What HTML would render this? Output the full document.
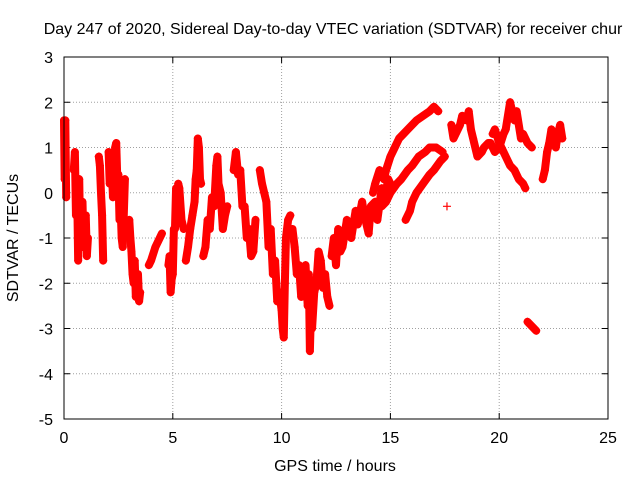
<!DOCTYPE html>
<html><head><meta charset="utf-8"><style>
body{margin:0;background:#fff}
svg text{font-family:"Liberation Sans",sans-serif;font-size:16px;fill:#000}
</style></head><body>
<svg id="c" width="640" height="480" xmlns="http://www.w3.org/2000/svg">
<rect width="640" height="480" fill="#fff"/>
<text x="333" y="34" text-anchor="middle">Day 247 of 2020, Sidereal Day-to-day VTEC variation (SDTVAR) for receiver chur</text>
<text transform="translate(18,238) rotate(-90)" text-anchor="middle">SDTVAR / TECUs</text>
<text x="335" y="471" text-anchor="middle">GPS time / hours</text>
<g id="grid"></g><g id="marks"></g>
<rect x="64" y="57" width="544" height="362" fill="none" stroke="#000"/>
</svg>
<script>
const xTicks=[0,5,10,15,20,25];
const yTicks=[3,2,1,0,-1,-2,-3,-4,-5];
const trackTimes=[
[0,0.03,0.06,0.1],
[0.45,0.5,0.55,0.6,0.65,0.7,0.75,0.8,0.85,0.9,0.95,1.0,1.05,1.1],
[1.6,1.65,1.7,1.75,1.8],
[2.05,2.1,2.15,2.2,2.25,2.3,2.35,2.4,2.45,2.5,2.55,2.6,2.65,2.7,2.8],
[3.0,3.05,3.1,3.15,3.2,3.25,3.3,3.35,3.4,3.45,3.5],
[3.9,4.0,4.2,4.5],
[4.8,4.85,4.9,4.95,5.0,5.05,5.1,5.15,5.2,5.25,5.3,5.4,5.5],
[5.6,5.7,5.8,5.9,6.0,6.05,6.1,6.15,6.2,6.25,6.3],
[6.4,6.5,6.6,6.7,6.8,6.9,7.0,7.05,7.1,7.2,7.3,7.4,7.5],
[7.8,7.9,8.0,8.1,8.2,8.3,8.4,8.5,8.6,8.7,8.8],
[9.0,9.1,9.2,9.3,9.4,9.5,9.6,9.7,9.8,9.9,10.0,10.05,10.1,10.15,10.2,10.3,10.4],
[10.5,10.6,10.7,10.8,10.9,11.0,11.1,11.2,11.25,11.3,11.35,11.4,11.5,11.6,11.7,11.8,11.9,12.0,12.1,12.2],
[12.3,12.4,12.5,12.6,12.7,12.8,13.0,13.2,13.4,13.5,13.7,13.8,14.0,14.1,14.3,14.4,14.6,14.7,14.9,15.0],
[14.2,14.3,14.5,14.7,14.8,15.0,15.2,15.4,15.6,15.8,16.0,16.2,16.5,16.8,17.0,17.2],
[14.6,14.8,15.0,15.3,15.5,15.8,16.0,16.3,16.6,16.8,17.1,17.4],
[15.7,15.9,16.0,16.2,16.5,16.8,17.0,17.3,17.5],
[17.6],
[17.8,17.9,18.0,18.2,18.3,18.5,18.6,18.7,18.8,19.0,19.2,19.3,19.5,19.6,19.8,20.0,20.2,20.3,20.5,20.7,20.8,21.0,21.1,21.3,21.5],
[19.7,19.8,20.0,20.1,20.3,20.5,20.7,20.9,21.1,21.2],
[21.3,21.5,21.7],
[22.0,22.1,22.2,22.3,22.4,22.5,22.6,22.7,22.8,22.9]
];
const trackValues=[
[1.6,0.3,1.6,-0.1],
[0.5,0.9,-0.5,0.2,-1.5,0.3,-1.2,-0.8,-0.2,-1.2,-0.6,-0.5,-1.4,-1.0],
[0.8,0.6,0,-0.5,-1.5],
[0.9,0.2,0.8,0.5,-0.1,0.2,1.0,1.1,0.3,0.4,-0.6,-0.3,-1.0,-1.2,0.3],
[-0.6,-1.0,-1.3,-1.8,-2.0,-1.5,-2.3,-1.9,-1.8,-2.4,-2.2],
[-1.6,-1.5,-1.2,-0.9],
[-1.6,-1.4,-2.2,-1.9,-1.8,-0.8,-0.8,0.1,-0.3,0.2,0.1,-0.6,-0.8],
[-1.5,-1.2,-0.8,-0.5,-0.2,0.3,0.5,1.2,1.0,0.3,0.2],
[-1.4,-1.2,-0.6,-0.8,-0.1,-0.3,0.6,0.8,0.2,0.0,-0.8,-0.5,-0.3],
[0.5,0.9,0.4,0.5,-0.3,-0.3,-1.0,-0.8,-1.4,-1.3,-0.6],
[0.5,0.2,0,-0.2,-1.2,-0.8,-1.8,-1.5,-2.4,-2.2,-2.6,-3.0,-3.2,-2.0,-1.0,-0.6,-0.5],
[-0.8,-1.2,-1.8,-1.6,-2.3,-2.0,-1.6,-2.5,-1.8,-3.5,-2.6,-3.0,-2.2,-2.0,-1.3,-1.5,-2.1,-1.8,-2.3,-2.5],
[-1.4,-1.0,-1.6,-0.8,-1.3,-1.2,-0.6,-1.0,-0.4,-0.7,-0.2,-0.5,-0.9,-0.3,-0.2,-0.6,0.1,-0.2,0.3,0.2],
[0.0,0.2,0.5,0.3,0.5,0.8,1.0,1.2,1.3,1.4,1.5,1.6,1.7,1.8,1.9,1.8],
[-0.3,-0.2,0.0,0.2,0.3,0.5,0.6,0.8,0.9,1.0,1.0,0.9],
[-0.6,-0.4,-0.2,0.0,0.2,0.4,0.5,0.7,0.8],
[-0.3],
[1.5,1.2,1.3,1.5,1.7,1.6,1.8,1.4,1.2,0.8,0.9,1.0,1.1,1.1,0.9,1.0,1.3,1.4,2.0,1.6,1.8,1.2,1.3,1.1,1.0],
[1.3,1.4,1.1,1.0,0.8,0.6,0.5,0.3,0.2,0.1],
[-2.85,-2.95,-3.05],
[0.3,0.5,0.9,1.1,1.4,1.2,1.0,1.3,1.5,1.2]
];
const X=t=>64+t*544/25, Y=v=>57+(3-v)*362/8;
const NS="http://www.w3.org/2000/svg";
const grid=document.getElementById('grid'), marks=document.getElementById('marks'), svg=document.getElementById('c');
function mk(tag,a,p){const e=document.createElementNS(NS,tag);for(const k in a)e.setAttribute(k,a[k]);p.appendChild(e);return e;}
xTicks.forEach(t=>{
 if(t>0&&t<25){const l=mk('line',{x1:X(t),x2:X(t),y1:57,y2:419,stroke:'#a0a0a0','stroke-dasharray':'1,2'},grid);
 
 }
 mk('line',{x1:X(t),x2:X(t),y1:419,y2:413,stroke:'#000'},grid);
 mk('line',{x1:X(t),x2:X(t),y1:57,y2:63,stroke:'#000'},grid);
 const tx=mk('text',{x:X(t),y:443,'text-anchor':'middle'},svg);tx.textContent=t;
 
 
});
yTicks.forEach(v=>{
 if(v<3&&v>-5){const l=mk('line',{x1:64,x2:608,y1:Y(v),y2:Y(v),stroke:'#a0a0a0','stroke-dasharray':'1,2'},grid);
 
 }
 mk('line',{x1:64,x2:70,y1:Y(v),y2:Y(v),stroke:'#000'},grid);
 mk('line',{x1:602,x2:608,y1:Y(v),y2:Y(v),stroke:'#000'},grid);
 const tx=mk('text',{x:53,y:Y(v)+6,'text-anchor':'end'},svg);tx.textContent=v;
 
 
});
trackTimes.forEach((ts,i)=>{
 const vs=trackValues[i];
 const g=mk('g',{},marks);
 
 
 if(ts.length>1){mk('polyline',{points:ts.map((t,j)=>X(t)+','+Y(vs[j])).join(' '),fill:'none',stroke:'#f00','stroke-width':8,'stroke-linejoin':'round','stroke-linecap':'round'},g);}
 ts.forEach((t,j)=>{const x=X(t),y=Y(vs[j]);
  const p=mk('path',{d:`M${x-4},${y}H${x+4}M${x},${y-4}V${y+4}`,stroke:'#f00','stroke-width':1.2},g);
  
  
 });
});
</script>
</body></html>
